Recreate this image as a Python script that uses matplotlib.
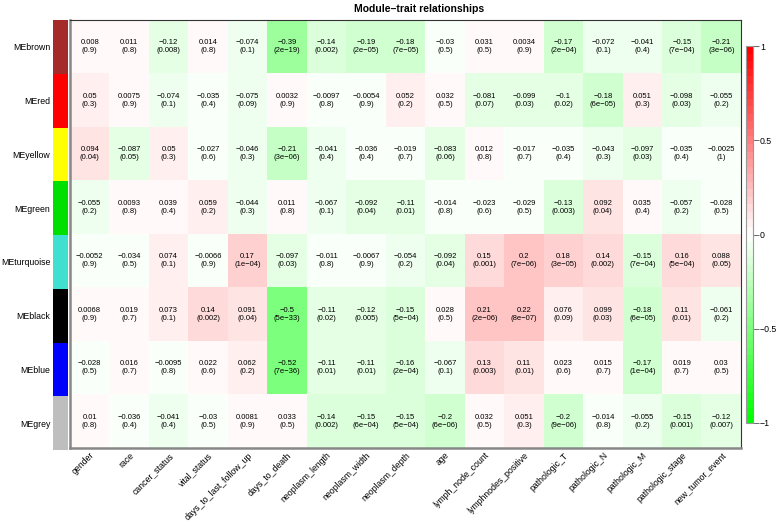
import numpy as np
import matplotlib
matplotlib.use("Agg")
import matplotlib.pyplot as plt
from matplotlib.colors import LinearSegmentedColormap

plt.rcParams['font.family'] = ['Liberation Sans', 'DejaVu Sans']

# ---------------- DATA ----------------
modules = ["MEbrown", "MEred", "MEyellow", "MEgreen", "MEturquoise", "MEblack", "MEblue", "MEgrey"]
module_colors = ["#A52A2A", "#FF0000", "#FFFF00", "#00E000", "#40E0D0", "#000000", "#0000FF", "#BEBEBE"]
traits = ["gender", "race", "cancer_status", "vital_status", "days_to_last_follow_up",
          "days_to_death", "neoplasm_length", "neoplasm_width", "neoplasm_depth", "age",
          "lymph_node_count", "lymphnodes_positive", "pathologic_T", "pathologic_N",
          "pathologic_M", "pathologic_stage", "new_tumor_event"]

cor_brown = [0.008, 0.011, -0.12, 0.014, -0.074, -0.39, -0.14, -0.19, -0.18, -0.03, 0.031, 0.0034, -0.17, -0.072, -0.041, -0.15, -0.21]
p_brown = [0.9, 0.8, 0.008, 0.8, 0.1, 2e-19, 0.002, 2e-05, 7e-05, 0.5, 0.5, 0.9, 2e-04, 0.1, 0.4, 7e-04, 3e-06]
cor_red = [0.05, 0.0075, -0.074, -0.035, -0.075, 0.0032, -0.0097, -0.0054, 0.052, 0.032, -0.081, -0.099, -0.1, -0.18, 0.051, -0.098, -0.055]
p_red = [0.3, 0.9, 0.1, 0.4, 0.09, 0.9, 0.8, 0.9, 0.2, 0.5, 0.07, 0.03, 0.02, 6e-05, 0.3, 0.03, 0.2]
cor_yellow = [0.094, -0.087, 0.05, -0.027, -0.046, -0.21, -0.041, -0.036, -0.019, -0.083, 0.012, -0.017, -0.035, -0.043, -0.097, -0.035, -0.0025]
p_yellow = [0.04, 0.05, 0.3, 0.6, 0.3, 3e-06, 0.4, 0.4, 0.7, 0.06, 0.8, 0.7, 0.4, 0.3, 0.03, 0.4, 1]
cor_green = [-0.055, 0.0093, 0.039, 0.059, -0.044, 0.011, -0.067, -0.092, -0.11, -0.014, -0.023, -0.029, -0.13, 0.092, 0.035, -0.057, -0.028]
p_green = [0.2, 0.8, 0.4, 0.2, 0.3, 0.8, 0.1, 0.04, 0.01, 0.8, 0.6, 0.5, 0.003, 0.04, 0.4, 0.2, 0.5]
cor_turquoise = [-0.0052, -0.034, 0.074, -0.0066, 0.17, -0.097, -0.011, -0.0067, -0.054, -0.092, 0.15, 0.2, 0.18, 0.14, -0.15, 0.16, 0.088]
p_turquoise = [0.9, 0.5, 0.1, 0.9, 1e-04, 0.03, 0.8, 0.9, 0.2, 0.04, 0.001, 7e-06, 3e-05, 0.002, 7e-04, 5e-04, 0.05]
cor_black = [0.0068, 0.019, 0.073, 0.14, 0.091, -0.5, -0.11, -0.12, -0.15, 0.028, 0.21, 0.22, 0.076, 0.099, -0.18, 0.11, -0.061]
p_black = [0.9, 0.7, 0.1, 0.002, 0.04, 5e-33, 0.02, 0.005, 5e-04, 0.5, 2e-06, 8e-07, 0.09, 0.03, 6e-05, 0.01, 0.2]
cor_blue = [-0.028, 0.016, -0.0095, 0.022, 0.062, -0.52, -0.11, -0.11, -0.16, -0.067, 0.13, 0.11, 0.023, 0.015, -0.17, 0.019, 0.03]
p_blue = [0.5, 0.7, 0.8, 0.6, 0.2, 7e-36, 0.01, 0.01, 2e-04, 0.1, 0.003, 0.01, 0.6, 0.7, 1e-04, 0.7, 0.5]
cor_grey = [0.01, -0.036, -0.041, -0.03, 0.0081, 0.033, -0.14, -0.15, -0.15, -0.2, 0.032, 0.051, -0.2, -0.014, -0.055, -0.15, -0.12]
p_grey = [0.8, 0.4, 0.4, 0.5, 0.9, 0.5, 0.002, 6e-04, 5e-04, 6e-06, 0.5, 0.3, 9e-06, 0.8, 0.2, 0.001, 0.007]

cor = np.array([cor_brown, cor_red, cor_yellow, cor_green, cor_turquoise, cor_black, cor_blue, cor_grey])
pval = np.array([p_brown, p_red, p_yellow, p_green, p_turquoise, p_black, p_blue, p_grey])


def r_fmt(x):
    # mimic R's choice between fixed and scientific notation
    fixed = np.format_float_positional(x, trim='-')
    sci = np.format_float_scientific(x, trim='-', exp_digits=2)
    s = sci if len(sci) < len(fixed) else fixed
    return s.replace('-', '\u2212')


# ---------------- PLOT ----------------
W, H = 778, 523
fig = plt.figure(figsize=(W / 100, H / 100), dpi=100)

def fax(x0, y0, x1, y1):
    return fig.add_axes([x0 / W, 1 - y1 / H, (x1 - x0) / W, (y1 - y0) / H])

cmap = LinearSegmentedColormap.from_list("gwr", ["#00FF00", "#FFFFFF", "#FF0000"], N=50)

ax = fax(70, 20, 741, 448)
im = ax.imshow(cor, cmap=cmap, vmin=-1, vmax=1, aspect='auto', interpolation='nearest')
for i in range(cor.shape[0]):
    for j in range(cor.shape[1]):
        ax.text(j, i, r_fmt(cor[i, j]) + "\n(" + r_fmt(pval[i, j]) + ")",
                ha='center', va='center', fontsize=5.5, linespacing=1.25)

ax.set_yticks([])
ax.set_xticks(range(len(traits)))
ax.set_xticklabels(traits, rotation=45, ha='right', rotation_mode='anchor', fontsize=6.3)
ax.tick_params(axis='x', length=0, pad=2)
for s in ['left', 'bottom']:
    ax.spines[s].set_color('#888888')
    ax.spines[s].set_linewidth(1.8)
for s in ['top', 'right']:
    ax.spines[s].set_color('#333333')
    ax.spines[s].set_linewidth(0.8)

ax.set_title("Module\u2013trait relationships", fontsize=7.5, fontweight='bold', pad=6, x=0.52)

# module colour strip
sax = fax(53, 20, 68, 450)
sax.barh(range(len(modules)), 1, height=1, color=module_colors)
sax.set_ylim(len(modules) - 0.5, -0.5)
sax.set_xlim(0, 1)
sax.set_xticks([])
sax.set_yticks(range(len(modules)))
sax.set_yticklabels(modules, fontsize=6.3)
sax.tick_params(axis='y', length=0, pad=2)
for s in sax.spines.values():
    s.set_visible(False)

# colour bar
cax = fax(746, 46, 753, 423)
cb = fig.colorbar(im, cax=cax, ticks=[-1, -0.5, 0, 0.5, 1])
cb.set_ticklabels(["\u22121", "\u22120.5", "0", "0.5", "1"])
cb.ax.tick_params(labelsize=6.3, length=4, width=0.6, pad=1, color='#555555')
cb.outline.set_edgecolor('#999999')
cb.outline.set_linewidth(0.8)

fig.savefig("out.png", dpi=100)
